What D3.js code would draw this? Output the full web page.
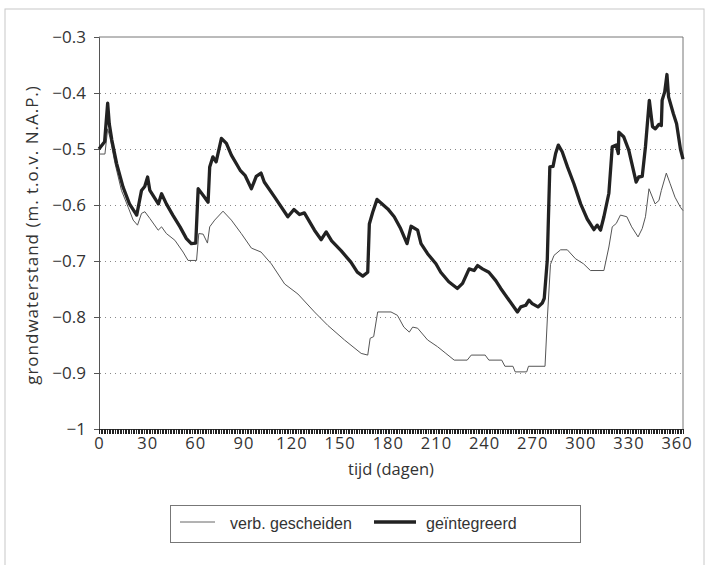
<!DOCTYPE html>
<html>
<head>
<meta charset="utf-8">
<script src="https://cdn.jsdelivr.net/npm/d3@7"></script>
<style>
  body { margin: 0; background: #fff; }
  svg { display: block; }
</style>
</head>
<body>
<svg id="chart" width="710" height="565"></svg>
<script>
// series: [dag, grondwaterstand]
const geintegreerd = [
  [0,-0.50],[3.5,-0.487],[5.4,-0.418],[6.4,-0.455],[8,-0.484],[11,-0.526],[15,-0.568],[19,-0.598],
  [23.5,-0.618],[26.5,-0.574],[28.5,-0.567],[30.3,-0.55],[31.7,-0.574],[37,-0.598],[39,-0.58],[42,-0.598],
  [46,-0.618],[50.5,-0.639],[54.5,-0.66],[57.5,-0.669],[60.3,-0.668],[61.8,-0.571],[65,-0.583],[68,-0.595],
  [69,-0.532],[71,-0.514],[73,-0.523],[76.3,-0.481],[79.4,-0.49],[82.5,-0.511],[88,-0.538],[91,-0.547],
  [95,-0.571],[98,-0.549],[101,-0.543],[103,-0.559],[109.5,-0.586],[117.7,-0.621],[121.5,-0.608],[125,-0.617],
  [128,-0.614],[134.3,-0.645],[138.5,-0.662],[141.6,-0.648],[145,-0.664],[151,-0.682],[157,-0.702],[161,-0.72],
  [164.4,-0.727],[167.5,-0.72],[168.5,-0.634],[170.6,-0.613],[173.3,-0.59],[180,-0.607],[184,-0.621],[188,-0.642],
  [192,-0.669],[194.5,-0.638],[198.6,-0.645],[200.7,-0.669],[204.8,-0.687],[210,-0.705],[213,-0.72],[218,-0.737],
  [223.4,-0.749],[226.6,-0.74],[230.7,-0.714],[233.8,-0.717],[236,-0.708],[239,-0.714],[243,-0.72],[247.3,-0.735],
  [250.4,-0.749],[255.6,-0.77],[260.8,-0.791],[262.9,-0.782],[266,-0.779],[268,-0.77],[270,-0.776],[273.6,-0.782],
  [276.3,-0.775],[277.5,-0.767],[279.4,-0.699],[281,-0.532],[283,-0.531],[284.6,-0.508],[286.3,-0.493],[288.7,-0.505],
  [292,-0.532],[296,-0.562],[300.2,-0.598],[304.3,-0.625],[308.5,-0.644],[310.5,-0.636],[312.6,-0.645],[314.7,-0.621],
  [317.8,-0.579],[319.9,-0.496],[322.4,-0.493],[323.7,-0.508],[324,-0.47],[327,-0.478],[330.2,-0.502],[334.8,-0.559],
  [336.4,-0.55],[338.6,-0.549],[340.6,-0.496],[343,-0.413],[345,-0.46],[346.8,-0.464],[349,-0.456],[350.5,-0.458],
  [351,-0.413],[352.6,-0.398],[354,-0.367],[355,-0.407],[358,-0.437],[360,-0.455],[362.4,-0.5],[364,-0.518]
];

const verbGescheiden = [
  [0,-0.509],[3.7,-0.509],[5.4,-0.464],[6.8,-0.479],[10,-0.526],[14,-0.574],[18.2,-0.604],[21.3,-0.627],
  [24,-0.636],[26.5,-0.615],[28.6,-0.612],[31.7,-0.624],[36.9,-0.645],[39,-0.639],[42,-0.651],[47.3,-0.663],
  [52.4,-0.684],[55.5,-0.699],[60.8,-0.699],[62.2,-0.651],[64.9,-0.652],[67.6,-0.668],[69,-0.639],[72.1,-0.627],
  [77.3,-0.611],[82.5,-0.627],[88.7,-0.651],[95,-0.677],[101,-0.684],[107.4,-0.705],[115.7,-0.741],[124,-0.759],
  [134.3,-0.791],[142.6,-0.815],[153,-0.841],[163.4,-0.865],[167.5,-0.868],[169,-0.838],[171.2,-0.835],[173.7,-0.791],
  [182,-0.791],[186,-0.797],[190,-0.818],[193.4,-0.827],[195.5,-0.818],[198.6,-0.82],[204.8,-0.841],[211,-0.853],
  [216.2,-0.865],[221.4,-0.877],[229.5,-0.877],[232,-0.868],[240.7,-0.868],[243,-0.877],[251,-0.877],[253,-0.888],
  [258,-0.888],[259.4,-0.898],[266.6,-0.898],[267.7,-0.888],[278,-0.888],[279.5,-0.80],[281.4,-0.706],[283.6,-0.69],
  [287.7,-0.68],[291.9,-0.68],[297,-0.696],[302,-0.705],[306.3,-0.717],[314.7,-0.717],[317.8,-0.675],[319.9,-0.639],
  [322.4,-0.633],[325,-0.618],[329,-0.621],[332,-0.639],[336,-0.657],[338.6,-0.642],[340.6,-0.621],[342.8,-0.571],
  [346.6,-0.598],[349,-0.592],[350.5,-0.574],[353.6,-0.543],[356,-0.562],[359,-0.586],[362.4,-0.604],[364,-0.61]
];

const xTicks = d3.range(0, 361, 30);
const yTicks = [-1, -0.9, -0.8, -0.7, -0.6, -0.5, -0.4, -0.3];
const gridTicks = [-0.9, -0.8, -0.7, -0.6, -0.5, -0.4];
const dayTicks = d3.range(0, 365, 1);

const svg = d3.select('#chart');
const font = "'Open Sans', 'Liberation Sans', sans-serif";

// outer frame
svg.append('rect')
  .attr('x', 5).attr('y', 9).attr('width', 699).attr('height', 580)
  .attr('fill', 'none').attr('stroke', '#c8c8c8').attr('stroke-width', 1);

const x = d3.scaleLinear().domain([0, 364]).range([99, 683]);
const y = d3.scaleLinear().domain([-1, -0.3]).range([429, 37]);

// dotted grid
svg.append('g').selectAll('line')
  .data(gridTicks)
  .enter()
  .append('line')
  .attr('x1', 100).attr('x2', 683)
  .attr('y1', d => Math.round(y(d)) + 0.5).attr('y2', d => Math.round(y(d)) + 0.5)
  .attr('stroke', '#888')
  .attr('stroke-width', 1)
  .attr('stroke-dasharray', '1,4');

// top and right frame of plot
svg.append('path')
  .attr('d', `M${x(0)},${y(-0.3)}H${x(364)}V${y(-1)}`)
  .attr('fill', 'none').attr('stroke', '#777').attr('stroke-width', 1);

// y axis
const yAxis = svg.append('g')
  .attr('transform', `translate(${x(0)},0)`)
  .call(d3.axisLeft(y).tickValues(yTicks).tickSize(5).tickPadding(8)
    .tickFormat(d => d === -1 ? '\u22121' : d3.format('.1f')(d)));
yAxis.select('.domain').attr('stroke', '#555');
yAxis.selectAll('.tick line').attr('stroke', '#555');
yAxis.selectAll('text')
  .style('font-family', font).style('font-size', '17px').attr('fill', '#333');

// x axis with daily ticks
const xAxisDays = svg.append('g')
  .attr('transform', `translate(0,${y(-1)})`)
  .call(d3.axisBottom(x).tickValues(dayTicks).tickSize(5).tickFormat(''));
xAxisDays.select('.domain').attr('stroke', '#333');
xAxisDays.selectAll('.tick line')
  .attr('stroke', '#222').attr('stroke-width', 1)
  .attr('shape-rendering', 'crispEdges');

const xAxis = svg.append('g')
  .attr('transform', `translate(0,${y(-1)})`)
  .call(d3.axisBottom(x).tickValues(xTicks).tickSize(0).tickPadding(8));
xAxis.select('.domain').remove();
xAxis.selectAll('text')
  .style('font-family', font).style('font-size', '16.5px').style('letter-spacing', '1px').attr('fill', '#333');

// axis titles
svg.append('text')
  .attr('x', 391).attr('y', 475)
  .attr('text-anchor', 'middle')
  .style('font-family', font).style('font-size', '16.5px').attr('fill', '#333')
  .text('tijd (dagen)');

svg.append('text')
  .attr('transform', 'translate(38,235) rotate(-90)')
  .attr('text-anchor', 'middle')
  .style('font-family', font).style('font-size', '17px').style('letter-spacing', '1px').attr('fill', '#333')
  .text('grondwaterstand (m. t.o.v. N.A.P.)');

// lines
const line = d3.line().x(d => x(d[0])).y(d => y(d[1]));

svg.append('path')
  .datum(verbGescheiden)
  .attr('d', line)
  .attr('fill', 'none')
  .attr('stroke', '#555')
  .attr('stroke-width', 1);

svg.append('path')
  .datum(geintegreerd)
  .attr('d', line)
  .attr('fill', 'none')
  .attr('stroke', '#222')
  .attr('stroke-width', 3.3)
  .attr('stroke-linejoin', 'round');

// legend
const legend = svg.append('g');
legend.append('rect')
  .attr('x', 170.5).attr('y', 505.5).attr('width', 410).attr('height', 37)
  .attr('fill', '#fff').attr('stroke', '#777');
legend.append('line')
  .attr('x1', 180).attr('x2', 215).attr('y1', 522).attr('y2', 522)
  .attr('stroke', '#666').attr('stroke-width', 1);
legend.append('text')
  .attr('x', 230).attr('y', 529)
  .style('font-family', "'Liberation Sans', Arial, sans-serif").style('font-size', '16px').attr('fill', '#333')
  .text('verb. gescheiden');
legend.append('line')
  .attr('x1', 374).attr('x2', 416).attr('y1', 522).attr('y2', 522)
  .attr('stroke', '#222').attr('stroke-width', 3.5);
legend.append('text')
  .attr('x', 426).attr('y', 529)
  .style('font-family', "'Liberation Sans', Arial, sans-serif").style('font-size', '16px').attr('fill', '#333')
  .text('geïntegreerd');
</script>
</body>
</html>
